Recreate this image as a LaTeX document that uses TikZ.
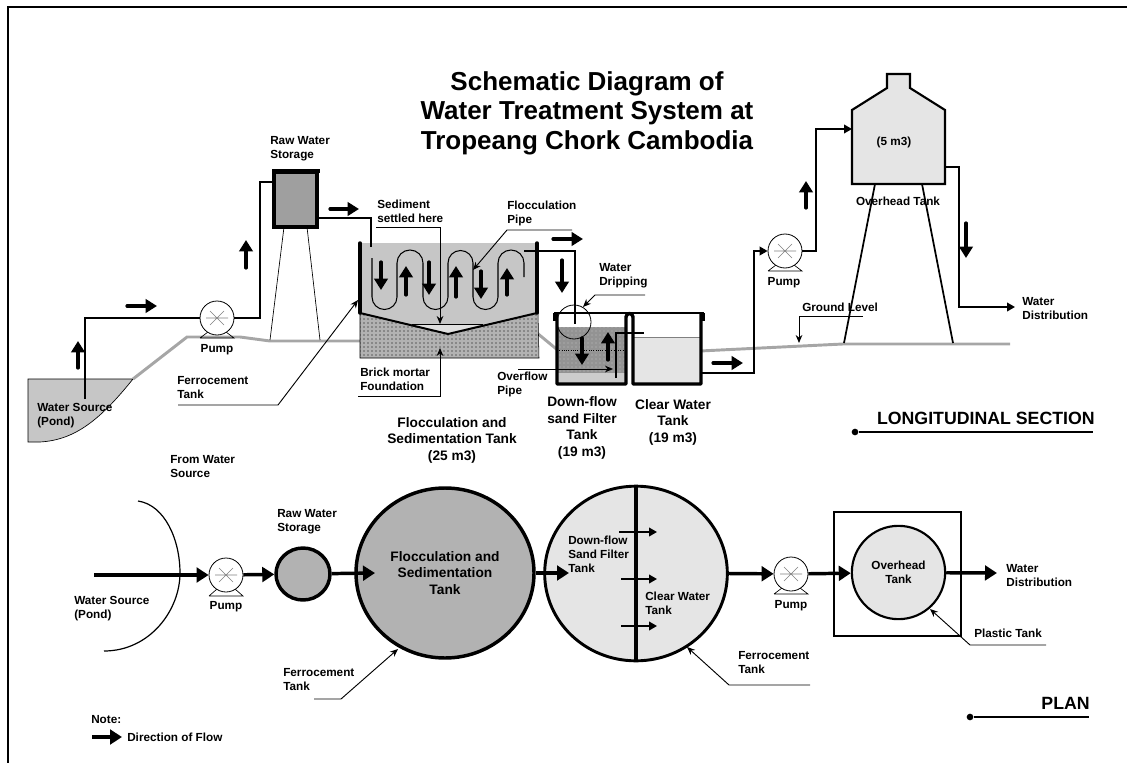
\documentclass[tikz,border=0pt]{standalone}
\usepackage{fontspec}
\setmainfont{Liberation Sans}
\usetikzlibrary{arrows.meta,patterns,shapes.geometric}

\tikzset{
    lbl/.style={font=\fontsize{8.8}{10.5}\selectfont\bfseries, align=left, inner sep=0, anchor=west},
    biglbl/.style={font=\fontsize{10.3}{12.4}\selectfont\bfseries, align=center, inner sep=0},
    headlbl/.style={font=\fontsize{13.3}{16}\selectfont\bfseries, inner sep=0},
    flow/.style={line width=2.4pt, line cap=round, -{Triangle[length=8.5pt,width=10pt]}},
    planflow/.style={line width=2.6pt, -{Triangle[length=9pt,width=11pt]}},
    pipe/.style={line width=1.3pt},
    pipetip/.style={line width=1.3pt, -{Triangle[length=6pt,width=6.5pt]}},
    leader/.style={line width=0.7pt, -{Stealth[length=6pt,width=5pt]}},
    ground/.style={line width=2.2pt, gray!70},
    wall/.style={line width=2.6pt},
    pumpbody/.style={circle, draw, fill=white, minimum size=25.5pt, inner sep=0, line width=0.6pt},
    plantank/.style={ellipse, draw, inner sep=0, align=center},
    dotnode/.style={circle, fill=black, inner sep=0, minimum size=5pt}
}

% Pump: name, x, y, y of the base
\newcommand{\pumpfig}[4]{
    \draw[line width=0.5pt] (#2-17,#4) -- (#2+17,#4) -- (#2+9,#3+14) (#2-17,#4) -- (#2-9,#3+14);
    \node[pumpbody] (#1) at (#2,#3) {};
    \draw[line width=0.5pt, gray] (#2-11,#3) -- (#2+11,#3) (#2-7,#3-7) -- (#2+7,#3+7) (#2-7,#3+7) -- (#2+7,#3-7);
}

\begin{document}
\begin{tikzpicture}[x=0.75pt, y=-0.75pt]
    \useasboundingbox (0,0) rectangle (1127,763);
    \draw[line width=1.5pt] (8,763) -- (8,7.5) -- (1127,7.5);

    % Title
    \node[font=\fontsize{19.5}{22.2}\selectfont\bfseries, align=center, inner sep=0] (title) at (587,113) {Schematic Diagram of\\Water Treatment System at\\Tropeang Chork Cambodia};

    % Pond and ground level
    \draw[fill=gray!45, line width=0.5pt] (28,379) -- (133,379) .. controls (100,420) and (75,440) .. (40,442) -- (28,442) -- cycle;
    \draw[ground] (133,379) -- (187,337) -- (240,337) -- (270,341) -- (360,341);
    \draw[ground] (537,333) -- (560,352);
    \draw[ground] (700,351) -- (843,344) -- (1010,344);

    % Raw water storage
    \draw[line width=0.5pt] (284,227) -- (270,340) (307,227) -- (320,340);
    \draw[wall, fill=gray!75] (274,172) rectangle (317,227);
    \draw[line width=3.2pt] (272,171) -- (320,171);
    \coordinate (rawin) at (273,182);
    \coordinate (rawout) at (318,218);

    % Pump to raw water storage
    \pumpfig{pumpa}{217}{318}{338}
    \coordinate (srcend) at (85,399);
    \draw[pipe] (srcend) |- (pumpa);
    \draw[pipe] (pumpa) -| (260,182) -- (rawin);

    % Foundation
    \fill[gray!60] (360,313) -- (448,334) -- (538,313) -- (539,358) -- (360,358) -- cycle;
    \fill[pattern=dots, pattern color=black] (360,313) -- (448,334) -- (538,313) -- (539,358) -- (360,358) -- cycle;
    \draw[line width=0.4pt] (360,313) -- (360,358) -- (539,358) -- (538,313);

    % Flocculation tank
    \fill[gray!45] (360,243) -- (537,243) -- (537,313) -- (448,334) -- (360,313) -- cycle;
    \fill[gray!25] (412,324) -- (483,324) -- (448,334) -- cycle;
    \draw[line width=0.7pt] (412,324) -- (483,324);
    \draw[line width=1.5pt] (360,313) -- (448,334) -- (537,313);
    \draw[wall, line cap=round] (360,243) -- (360,313);
    \draw[wall, line cap=round] (537,243) -- (537,313);
    \coordinate (flocin) at (371,247);
    \coordinate (flocout) at (524,251);
    \draw[pipe] (rawout) -| (flocin);

    % Flocculation pipe
    \draw[line width=0.8pt] (372,258) -- (372,297) arc (180:0:12.5) -- (397,263)
        arc (180:360:13) -- (423,297) arc (180:0:12.5) -- (448,263)
        arc (180:360:12.5) -- (473,297) arc (180:0:12.5) -- (498,263)
        arc (180:360:13) -- (524,277);

    % Filter tank
    \fill[gray!85] (557,327) rectangle (626,373);
    \fill[pattern=dots, pattern color=gray!50] (557,327) rectangle (626,373);
    \fill[gray!40] (557,373) rectangle (626,384);
    \draw[line width=0.7pt, densely dotted] (557,350) -- (626,350);

    % Clear water tank
    \fill[gray!20] (633,337) rectangle (701,384);
    \draw[line width=0.5pt, gray] (633,337) -- (701,337);

    % Walls of both tanks
    \draw[wall, line join=round] (557,313) -- (557,384) -- (626,384) -- (626,317) arc (180:360:3.5) -- (633,384) -- (701,384) -- (701,313);
    \draw[line width=2pt] (554,313) -- (704,313);
    \draw[line width=3pt] (555,313) -- (555,321) (703,313) -- (703,321);

    % Water dripping and overflow pipes
    \coordinate (dripend) at (575,324);
    \draw[pipe] (flocout) -| (dripend);
    \draw[line width=0.6pt] (574,322) circle (17);
    \coordinate (overa) at (616,378);
    \coordinate (overb) at (644,333);
    \draw[line width=1pt] (overa) |- (overb);

    % Clear water tank to overhead tank
    \pumpfig{pumpb}{785}{251}{271}
    \coordinate (clearout) at (701,373);
    \draw[pipetip] (clearout) -| (754,251) -- (pumpb);
    \coordinate (ohin) at (852,129);
    \draw[pipetip] (pumpb) -| (816,129) -- (ohin);

    % Overhead tank
    \draw[line width=1.3pt] (875,184) -- (844,343) (922,184) -- (953,343);
    \draw[line width=1.6pt, fill=gray!20] (852,184) -- (852,110) -- (887,88) -- (887,74) -- (910,74) -- (910,88) -- (945,110) -- (945,184) -- cycle;
    \coordinate (ohout) at (945,167);
    \coordinate (distend) at (1015,307);
    \draw[pipetip] (ohout) -| (959,307) -- (distend);

    % Flow arrows of the section
    \coordinate (fa1) at (127,306);  \coordinate (fb1) at (157,306);
    \coordinate (fa2) at (78,368);   \coordinate (fb2) at (78,341);
    \coordinate (fa3) at (246,268);  \coordinate (fb3) at (246,240);
    \coordinate (fa4) at (330,209);  \coordinate (fb4) at (359,209);
    \coordinate (fa5) at (553,239);  \coordinate (fb5) at (583,239);
    \coordinate (fa6) at (562,260);  \coordinate (fb6) at (562,293);
    \coordinate (fa7) at (582,338);  \coordinate (fb7) at (582,365);
    \coordinate (fa8) at (608,360);  \coordinate (fb8) at (608,332);
    \coordinate (fa9) at (713,363);  \coordinate (fb9) at (743,363);
    \coordinate (fa10) at (806,208); \coordinate (fb10) at (806,181);
    \coordinate (fa11) at (966,223); \coordinate (fb11) at (966,258);
    \coordinate (fa12) at (381,262); \coordinate (fb12) at (381,290);
    \coordinate (fa13) at (406,295); \coordinate (fb13) at (406,266);
    \coordinate (fa14) at (429,262); \coordinate (fb14) at (429,295);
    \coordinate (fa15) at (456,297); \coordinate (fb15) at (456,266);
    \coordinate (fa16) at (481,271); \coordinate (fb16) at (481,299);
    \coordinate (fa17) at (507,295); \coordinate (fb17) at (507,268);
    \foreach \i in {1,...,17}
        \draw[flow] (fa\i) -- (fb\i);

    % Leaders of the section
    \coordinate (fera) at (178,405);  \coordinate (ferb) at (278,405);  \coordinate (ferc) at (358,300);
    \draw[leader] (fera) -- (ferb) -- (ferc);
    \coordinate (seda) at (376,227);  \coordinate (sedb) at (440,227);  \coordinate (sedc) at (440,324);
    \draw[leader] (seda) -- (sedb) -- (sedc);
    \coordinate (pipa) at (572,230);  \coordinate (pipb) at (507,230);  \coordinate (pipc) at (473,270);
    \draw[leader] (pipa) -- (pipb) -- (pipc);
    \coordinate (dria) at (645,295);  \coordinate (drib) at (595,295);  \coordinate (dric) at (583,307);
    \draw[leader] (dria) -- (drib) -- (dric);
    \coordinate (bria) at (358,396);  \coordinate (brib) at (440,396);  \coordinate (bric) at (440,348);
    \draw[leader] (bria) -- (brib) -- (bric);
    \coordinate (ovfa) at (518,369);  \coordinate (ovfb) at (613,369);
    \draw[leader] (ovfa) -- (ovfb);
    \coordinate (grda) at (863,316);  \coordinate (grdb) at (799,316);  \coordinate (grdc) at (799,343);
    \draw[leader] (grda) -- (grdb) -- (grdc);

    % Section labels
    \node[lbl] (rawlbl) at (270,149) {Raw Water\\Storage};
    \node[lbl, anchor=center] (pumplbla) at (217,350) {Pump};
    \node[lbl] (ferlbl) at (177,388) {Ferrocement\\Tank};
    \node[lbl] (pondlbl) at (37,416) {Water Source\\(Pond)};
    \node[lbl] (sedlbl) at (377,211) {Sediment\\settled here};
    \node[lbl] (piplbl) at (507,213) {Flocculation\\Pipe};
    \node[lbl] (drilbl) at (599,276) {Water\\Dripping};
    \node[lbl] (brilbl) at (360,379) {Brick mortar\\Foundation};
    \node[lbl] (ovflbl) at (497,384) {Overflow\\Pipe};
    \node[lbl, anchor=center] (pumplblb) at (784,283) {Pump};
    \node[lbl] (grdlbl) at (802,307) {Ground Level};
    \node[lbl] (dislbl) at (1022,309) {Water\\Distribution};
    \node[lbl, anchor=center] (vollbl) at (894,142) {(5 m3)};
    \node[lbl, anchor=center] (ohlbl) at (898,201) {Overhead Tank};
    \node[biglbl] (floclbl) at (452,440) {Flocculation and\\Sedimentation Tank\\(25 m3)};
    \node[biglbl] (filtlbl) at (582,428) {Down-flow\\sand Filter\\Tank\\(19 m3)};
    \node[biglbl] (clrlbl) at (673,422) {Clear Water\\Tank\\(19 m3)};

    % Longitudinal section heading
    \node[headlbl, anchor=east] (seclbl) at (1095,418) {LONGITUDINAL SECTION};
    \node[dotnode] (secdot) at (855,432) {};
    \coordinate (secend) at (1093,432);
    \draw[line width=1.2pt] (secdot) -- (secend);

    % Plan
    \draw[line width=0.9pt] (138,501) .. controls (165,505) and (180,540) .. (180,573) .. controls (180,610) and (150,651) .. (104,651);
    \pumpfig{pumpc}{226}{575}{596}
    \pumpfig{pumpd}{791}{574}{594}
    \node[plantank, line width=2.6pt, fill=gray!60, minimum width=40.5pt, minimum height=39pt] (rawplan) at (303,574) {};
    \node[plantank, line width=2.6pt, fill=gray!60, minimum width=133.5pt, minimum height=127.5pt, font=\fontsize{10.3}{12.4}\selectfont\bfseries] (flocplan) at (445,573) {Flocculation and\\Sedimentation\\Tank};
    \node[plantank, line width=2.2pt, fill=gray!20, minimum width=137pt, minimum height=131pt] (sandplan) at (636,573.5) {};
    \draw[line width=2.6pt] (sandplan.north) -- (sandplan.south);
    \draw[line width=1.6pt] (834,512) rectangle (961,636);
    \node[plantank, line width=1.6pt, fill=gray!20, minimum width=70pt, minimum height=70pt, font=\fontsize{8.8}{10.5}\selectfont\bfseries] (ohplan) at (898.5,572.5) {Overhead\\Tank};

    \coordinate (srcplan) at (94,575);
    \coordinate (distplan) at (997,573);
    \coordinate (flocarr) at (375,573);
    \coordinate (sandarr) at (569,573);
    \draw[planflow] (srcplan) -- (pumpc);
    \draw[planflow] (pumpc) -- (rawplan);
    \draw[planflow] (rawplan) -- (flocarr);
    \draw[planflow] (flocplan) -- (sandarr);
    \draw[planflow] (sandplan.east) -- (pumpd);
    \draw[planflow] (pumpd) -- (ohplan);
    \draw[planflow] (ohplan) -- (distplan);

    % Arrows through the wall of the plan
    \foreach \y/\a in {532/619,579/621,626/621}
        \draw[pipetip] (\a,\y) -- (657,\y);

    % Leaders of the plan
    \coordinate (fpa) at (314,699);  \coordinate (fpb) at (341,699);  \coordinate (fpc) at (398,649);
    \draw[leader] (fpa) -- (fpb) -- (fpc);
    \coordinate (fqa) at (810,685);  \coordinate (fqb) at (729,685);  \coordinate (fqc) at (687,647);
    \draw[leader] (fqa) -- (fqb) -- (fqc);
    \coordinate (pta) at (1046,645); \coordinate (ptb) at (970,645);  \coordinate (ptc) at (930,609);
    \draw[leader] (pta) -- (ptb) -- (ptc);

    % Plan labels
    \node[lbl] (fromlbl) at (170,467) {From Water\\Source};
    \node[lbl] (rawplbl) at (277,522) {Raw Water\\Storage};
    \node[lbl] (pondplbl) at (74,609) {Water Source\\(Pond)};
    \node[lbl, anchor=center] (pumplblc) at (226,607) {Pump};
    \node[lbl, anchor=center] (pumplbld) at (791,606) {Pump};
    \node[lbl] (sandlbl) at (568,554) {Down-flow\\Sand Filter\\Tank};
    \node[lbl] (clrplbl) at (645,603) {Clear Water\\Tank};
    \node[lbl] (ferplbl) at (283,680) {Ferrocement\\Tank};
    \node[lbl] (ferqlbl) at (738,663) {Ferrocement\\Tank};
    \node[lbl] (distlbl) at (1006,576) {Water\\Distribution};
    \node[lbl] (plastlbl) at (974,633) {Plastic Tank};

    % Plan heading
    \node[headlbl, anchor=east] (planlbl) at (1090,703) {PLAN};
    \node[dotnode] (plandot) at (970,717) {};
    \coordinate (planend) at (1089,717);
    \draw[line width=1.2pt] (plandot) -- (planend);

    % Note
    \node[lbl] (notelbl) at (91,720) {Note:};
    \coordinate (notea) at (92,737);
    \coordinate (noteb) at (122,737);
    \node[lbl] (dirlbl) at (127,737) {Direction of Flow};
    \draw[planflow] (notea) -- (noteb);
\end{tikzpicture}
\end{document}
